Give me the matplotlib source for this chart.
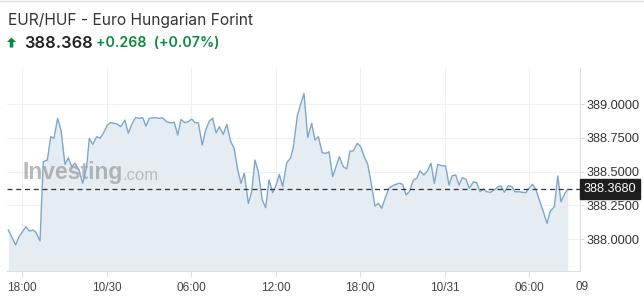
import matplotlib.pyplot as plt
from matplotlib.patches import Rectangle, Polygon

# hours since 10/29 18:00, EUR/HUF rate
hours = [-0.97, -0.45, -0.21, 0.28, 0.52, 0.76, 0.99, 1.28, 1.51, 1.80, 2.04, 2.27, 2.53, 2.77,
         3.05, 3.29, 3.53, 3.76, 4.05, 4.31, 4.59, 4.78, 5.02, 5.30, 5.54, 5.77, 6.06, 6.30,
         6.72, 7.01, 7.31, 7.55, 7.79, 8.07, 8.33, 8.57, 8.80, 9.04, 9.44, 9.73, 9.96, 10.27,
         10.51, 10.81, 11.06, 11.29, 11.57, 11.81, 12.05, 12.28, 12.52, 12.80, 13.04, 13.30,
         13.54, 13.78, 14.01, 14.29, 14.54, 14.82, 15.05, 15.32, 15.55, 15.78, 16.07, 16.31,
         16.54, 16.78, 17.06, 17.30, 17.54, 17.80, 18.04, 18.27, 18.51, 18.80, 19.08, 19.26,
         19.55, 19.79, 20.02, 20.29, 20.57, 20.80, 21.04, 21.32, 21.59, 21.80, 22.06, 22.53,
         22.81, 23.06, 23.29, 23.52, 23.81, 24.05, 24.30, 24.55, 24.78, 25.06, 25.30, 25.54,
         25.78, 26.06, 26.29, 26.56, 26.79, 27.03, 27.27, 27.50, 27.79, 28.03, 28.26, 28.54,
         28.78, 29.04, 29.28, 29.52, 29.84, 30.08, 30.32, 30.55, 30.80, 31.03, 31.26, 31.53,
         31.76, 32.05, 32.29, 32.52, 32.76, 33.00, 33.28, 33.52, 33.82, 34.01, 34.25, 34.53,
         34.77, 35.01, 35.29, 35.53, 35.77, 36.00, 36.26, 36.50, 36.73, 37.02, 37.28, 37.51,
         37.80, 38.04, 38.27, 38.55, 38.75]
rate = [388.067, 387.956, 388.017, 388.091, 388.059, 388.067, 388.050, 387.985, 388.573, 388.585,
        388.758, 388.746, 388.894, 388.807, 388.553, 388.602, 388.536, 388.561, 388.511, 388.413,
        388.536, 388.746, 388.701, 388.758, 388.746, 388.783, 388.844, 388.862, 388.854, 388.832,
        388.881, 388.783, 388.849, 388.901, 388.894, 388.899, 388.837, 388.894, 388.899, 388.894,
        388.899, 388.869, 388.862, 388.864, 388.770, 388.886, 388.862, 388.869, 388.889, 388.862,
        388.862, 388.696, 388.807, 388.874, 388.894, 388.787, 388.832, 388.775, 388.849, 388.721,
        388.676, 388.511, 388.413, 388.487, 388.264, 388.350, 388.585, 388.499, 388.289, 388.232,
        388.437, 388.343, 388.400, 388.479, 388.388, 388.565, 388.602, 388.676, 388.913, 389.000,
        389.079, 388.753, 388.857, 388.733, 388.758, 388.639, 388.635, 388.647, 388.462, 388.610,
        388.536, 388.519, 388.652, 388.652, 388.709, 388.684, 388.610, 388.553, 388.424, 388.244,
        388.264, 388.227, 388.301, 388.376, 388.393, 388.405, 388.413, 388.405, 388.326, 388.350,
        388.437, 388.450, 388.504, 388.474, 388.504, 388.561, 388.413, 388.553, 388.543, 388.541,
        388.400, 388.469, 388.474, 388.400, 388.454, 388.442, 388.376, 388.424, 388.417, 388.350,
        388.370, 388.350, 388.346, 388.363, 388.388, 388.393, 388.346, 388.395, 388.388, 388.350,
        388.350, 388.346, 388.343, 388.376, 388.405, 388.363, 388.289, 388.202, 388.116, 388.207,
        388.239, 388.467, 388.276, 388.339, 388.368]

last_price = 388.368
tick_hours = [0, 6, 12, 18, 24, 30, 36]
tick_labels = ['18:00', '10/30', '06:00', '12:00', '18:00', '10/31', '06:00']
y_ticks = [388.0, 388.25, 388.5, 388.75, 389.0]

plt.rcParams['font.family'] = ['Liberation Sans', 'DejaVu Sans']

fig = plt.figure(figsize=(6.44, 2.98), dpi=100)
ax = fig.add_axes([7 / 644, 27 / 298, 573 / 644, 203 / 298])
ymin, ymax = 387.763, 389.267

ax.fill_between(hours, rate, 387.7, color='#e5edf3', lw=0, zorder=1)
ax.plot(hours, rate, color='#7ba7cc', lw=1.0, zorder=3)
ax.axhline(last_price, color='#333333', lw=0.9, ls=(0, (4, 3)), zorder=4)

ax.set_xlim(-1.065, 39.62)
ax.set_ylim(ymin, ymax)
ax.set_xticks(tick_hours)
ax.set_xticklabels(tick_labels)
ax.set_yticks(y_ticks)
ax.set_yticklabels(['%.4f' % v for v in y_ticks])
ax.yaxis.tick_right()
ax.grid(color='#f0f0f0', lw=0.8)
ax.set_axisbelow(True)
for s in ['top', 'left']:
    ax.spines[s].set_visible(False)
for s in ['bottom', 'right']:
    ax.spines[s].set_color('#dddddd')
    ax.spines[s].set_linewidth(0.8)
ax.tick_params(axis='x', colors='#dddddd', labelcolor='#444444', labelsize=8.5, length=4, pad=4)
ax.tick_params(axis='y', colors='#dddddd', labelcolor='#333333', labelsize=9.2, length=3, pad=2)

# current price tag
tag_y = (last_price - ymin) / (ymax - ymin)
ax.add_patch(Rectangle((1.0, tag_y - 10 / 203), 60 / 573, 20 / 203, transform=ax.transAxes,
                       clip_on=False, color='#1e1e1e', zorder=5))
ax.text(1.0 + 4 / 573, tag_y, '%.4f' % last_price, transform=ax.transAxes, color='white',
        fontsize=9.2, va='center', ha='left', zorder=6)

# watermark
ax.text(16 / 573, (271 - 173) / 203, 'Investing', transform=ax.transAxes, fontsize=16.5,
        fontweight='bold', color='#9a9a9a', alpha=0.7, va='center', ha='left', zorder=2)
ax.text(116 / 573, (271 - 175) / 203, '.com', transform=ax.transAxes, fontsize=12,
        color='#aaaaaa', alpha=0.75, va='center', ha='left', zorder=2)

fig.text(576 / 644, 1 - 287 / 298, '09', fontsize=8.5, color='#444444', va='center', ha='left')

# header
fig.add_artist(plt.Line2D([0, 1], [0.997, 0.997], color='#dddddd', lw=1))
fig.text(8 / 644, 1 - 21 / 298, 'EUR/HUF - Euro Hungarian Forint', fontsize=11.2,
         family=['Inter', 'DejaVu Sans'], color='#333333', va='center', ha='left')
arrow_px = [(11.5, 37.5), (16, 42), (13.3, 42), (13.3, 47.5), (9.7, 47.5), (9.7, 42), (7, 42)]
fig.add_artist(Polygon([(x / 644, 1 - y / 298) for x, y in arrow_px], closed=True,
                       transform=fig.transFigure, color='#0a8a3c', lw=0))
fig.text(24 / 644, 1 - 43 / 298, '388.368', fontsize=11.8, fontweight='semibold',
         family=['Inter', 'DejaVu Sans'], color='#222222', va='center', ha='left')
fig.text(96 / 644, 1 - 43 / 298, '+0.268  (+0.07%)', fontsize=10.2, fontweight='semibold',
         family=['Inter', 'DejaVu Sans'], color='#0a8a3c', va='center', ha='left')

plt.savefig('out.png', dpi=100)
